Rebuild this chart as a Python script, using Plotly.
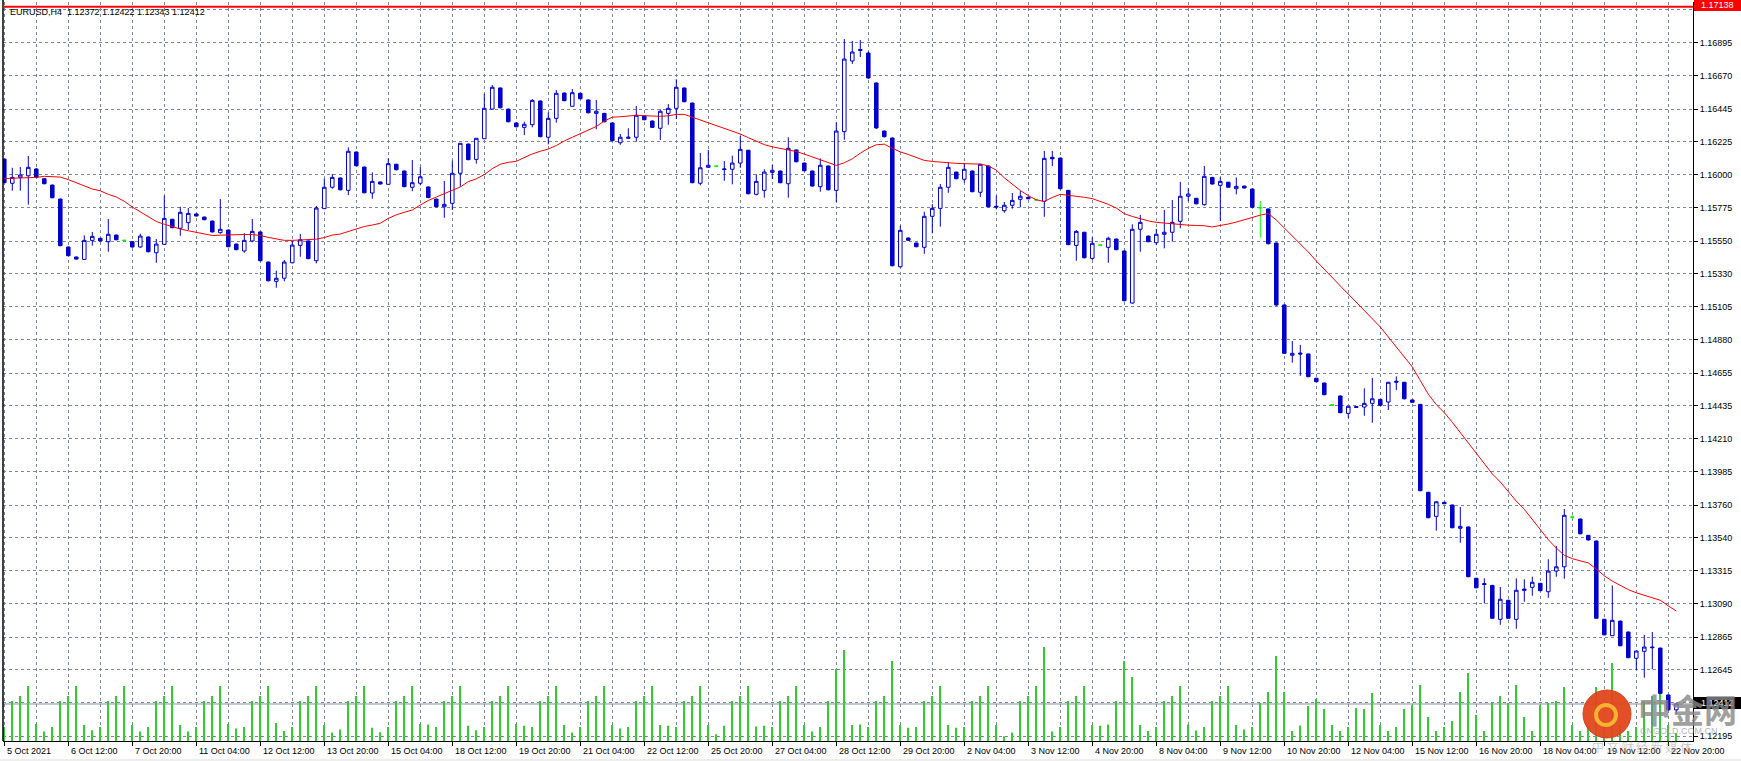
import plotly.graph_objects as go

# ---------------- data (EURUSD, H4) ----------------
open_ = [
1.16106,1.15942,1.15982,1.15993,1.16039,1.15973,1.15930,1.15835,1.15510,1.15442,
1.15426,1.15555,1.15569,1.15546,1.15591,1.15555,1.15546,1.15510,1.15578,1.15471,
1.15528,1.15698,1.15637,1.15675,1.15734,1.15713,1.15686,1.15607,1.15625,1.15530,
1.15483,1.15551,1.15612,1.15408,1.15277,1.15298,1.15403,1.15521,1.15551,1.15417,
1.15770,1.15915,1.15978,1.15894,1.16154,1.16052,1.15876,1.15951,1.15935,1.16071,
1.16025,1.15915,1.15942,1.15917,1.15835,1.15783,1.15806,1.16010,1.16208,1.16104,
1.16244,1.16445,1.16588,1.16445,1.16351,1.16321,1.16339,1.16500,1.16254,1.16382,
1.16554,1.16464,1.16552,1.16507,1.16416,1.16416,1.16351,1.16217,1.16247,1.16254,
1.16398,1.16364,1.16315,1.16416,1.16450,1.16588,1.16486,1.15942,1.16050,1.16058,
1.16035,1.16037,1.16079,1.16166,1.15867,1.15894,1.16016,1.16025,1.15939,1.16168,
1.16079,1.16025,1.15919,1.16059,1.15894,1.16292,1.16771,1.16842,1.16825,1.16622,
1.16296,1.16249,1.15376,1.15571,1.15537,1.15508,1.15718,1.15772,1.15915,1.16018,
1.15969,1.16025,1.15881,1.16059,1.15786,1.15756,1.15793,1.15833,1.15847,1.15829,
1.15820,1.16118,1.16113,1.15894,1.15521,1.15610,1.15433,1.15523,1.15508,1.15564,
1.15483,1.15130,1.15630,1.15584,1.15539,1.15596,1.15610,1.15684,1.15854,1.15840,
1.15797,1.15982,1.15928,1.15949,1.15905,1.15923,1.15903,1.15776,1.15768,1.15537,
1.15117,1.14776,1.14791,1.14785,1.14620,1.14588,1.14439,1.14500,1.14382,1.14428,
1.14425,1.14450,1.14477,1.14459,1.14600,1.14593,1.14473,1.14443,1.13847,1.13684,
1.13779,1.13761,1.13603,1.13612,1.13264,1.13228,1.13216,1.12986,1.13115,1.12986,
1.13191,1.13203,1.13230,1.13173,1.13313,1.13342,1.13679,1.13666,1.13555,1.13517,
1.12986,1.12875,1.12974,1.12900,1.12722,1.12769,1.12798,1.12791,1.12473,1.12372]

high_ = [
1.16106,1.16047,1.16052,1.16127,1.16046,1.15976,1.15933,1.15838,1.15513,1.15445,
1.15589,1.15612,1.15572,1.15700,1.15594,1.15559,1.15549,1.15600,1.15581,1.15564,
1.15858,1.15701,1.15783,1.15774,1.15737,1.15716,1.15689,1.15835,1.15628,1.15533,
1.15603,1.15700,1.15615,1.15411,1.15349,1.15422,1.15555,1.15598,1.15554,1.15788,
1.15973,1.16005,1.15981,1.16186,1.16157,1.16055,1.16016,1.15954,1.16111,1.16074,
1.16028,1.16100,1.16052,1.15920,1.15838,1.15957,1.16095,1.16215,1.16211,1.16249,
1.16549,1.16608,1.16591,1.16448,1.16354,1.16359,1.16513,1.16503,1.16423,1.16574,
1.16557,1.16581,1.16555,1.16510,1.16507,1.16419,1.16354,1.16276,1.16315,1.16466,
1.16401,1.16367,1.16443,1.16479,1.16647,1.16591,1.16489,1.16147,1.16168,1.16065,
1.16093,1.16129,1.16262,1.16169,1.16003,1.16037,1.16066,1.16028,1.16254,1.16171,
1.16082,1.16028,1.16111,1.16062,1.16355,1.16920,1.16907,1.16913,1.16835,1.16625,
1.16300,1.16252,1.15654,1.15574,1.15540,1.15749,1.15801,1.15937,1.16084,1.16021,
1.16077,1.16028,1.16073,1.16062,1.15858,1.15815,1.15876,1.15890,1.15850,1.15833,
1.16161,1.16161,1.16116,1.15897,1.15625,1.15613,1.15576,1.15530,1.15580,1.15567,
1.15486,1.15664,1.15727,1.15587,1.15632,1.15761,1.15829,1.15951,1.15908,1.15843,
1.16059,1.15985,1.15982,1.15952,1.15982,1.15926,1.15906,1.15822,1.15771,1.15540,
1.15120,1.14873,1.14846,1.14788,1.14623,1.14591,1.14444,1.14503,1.14432,1.14430,
1.14552,1.14622,1.14480,1.14595,1.14633,1.14596,1.14476,1.14446,1.13850,1.13785,
1.13782,1.13764,1.13747,1.13615,1.13267,1.13264,1.13219,1.13205,1.13118,1.13264,
1.13257,1.13275,1.13233,1.13393,1.13483,1.13734,1.13690,1.13669,1.13558,1.13520,
1.12989,1.13216,1.12977,1.12903,1.12773,1.12880,1.12900,1.12794,1.12476,1.12422]

low_ = [
1.15944,1.15892,1.15892,1.15797,1.15978,1.15935,1.15840,1.15515,1.15447,1.15425,
1.15424,1.15519,1.15548,1.15478,1.15556,1.15550,1.15506,1.15505,1.15474,1.15403,
1.15526,1.15637,1.15586,1.15625,1.15717,1.15692,1.15608,1.15600,1.15508,1.15488,
1.15471,1.15542,1.15413,1.15277,1.15234,1.15277,1.15399,1.15444,1.15427,1.15399,
1.15768,1.15905,1.15894,1.15862,1.16057,1.15874,1.15837,1.15934,1.15933,1.16030,
1.15915,1.15888,1.15928,1.15841,1.15779,1.15708,1.15761,1.15919,1.16098,1.16075,
1.16242,1.16441,1.16450,1.16355,1.16322,1.16269,1.16321,1.16254,1.16206,1.16353,
1.16498,1.16462,1.16511,1.16416,1.16308,1.16355,1.16227,1.16203,1.16242,1.16224,
1.16369,1.16317,1.16235,1.16339,1.16378,1.16491,1.15942,1.15928,1.16048,1.16050,
1.15959,1.15935,1.16047,1.15867,1.15860,1.15844,1.15971,1.15942,1.15844,1.16084,
1.16023,1.15919,1.15885,1.15894,1.15815,1.16237,1.16751,1.16798,1.16650,1.16310,
1.16252,1.15379,1.15370,1.15552,1.15508,1.15464,1.15603,1.15648,1.15878,1.15969,
1.15946,1.15881,1.15849,1.15779,1.15765,1.15742,1.15770,1.15779,1.15834,1.15826,
1.15715,1.16059,1.15901,1.15522,1.15417,1.15433,1.15422,1.15516,1.15403,1.15488,
1.15142,1.15126,1.15478,1.15542,1.15523,1.15501,1.15546,1.15637,1.15820,1.15799,
1.15790,1.15933,1.15686,1.15911,1.15867,1.15906,1.15775,1.15573,1.15528,1.15110,
1.14785,1.14726,1.14637,1.14627,1.14593,1.14505,1.14434,1.14383,1.14349,1.14420,
1.14366,1.14319,1.14433,1.14405,1.14540,1.14477,1.14453,1.13854,1.13671,1.13587,
1.13766,1.13603,1.13505,1.13271,1.13196,1.13094,1.12989,1.12949,1.12989,1.12922,
1.13105,1.13146,1.13176,1.13132,1.13275,1.13261,1.13668,1.13562,1.13520,1.12989,
1.12877,1.12873,1.12803,1.12722,1.12642,1.12590,1.12647,1.12480,1.12368,1.12343]

close_ = [
1.15946,1.15982,1.15998,1.16050,1.15982,1.15939,1.15844,1.15519,1.15451,1.15428,
1.15555,1.15582,1.15551,1.15596,1.15559,1.15555,1.15510,1.15584,1.15478,1.15530,
1.15704,1.15641,1.15745,1.15738,1.15720,1.15695,1.15612,1.15630,1.15512,1.15492,
1.15555,1.15616,1.15417,1.15281,1.15298,1.15408,1.15523,1.15559,1.15431,1.15774,
1.15915,1.15982,1.15898,1.16159,1.16061,1.15878,1.15955,1.15937,1.16075,1.16034,
1.15919,1.15946,1.15986,1.15845,1.15783,1.15799,1.16010,1.16213,1.16102,1.16247,
1.16450,1.16593,1.16454,1.16359,1.16325,1.16342,1.16504,1.16258,1.16382,1.16552,
1.16502,1.16556,1.16515,1.16420,1.16430,1.16359,1.16231,1.16254,1.16254,1.16403,
1.16373,1.16321,1.16430,1.16450,1.16593,1.16495,1.15946,1.16047,1.16064,1.16058,
1.16039,1.16079,1.16172,1.15871,1.15955,1.16018,1.16030,1.15946,1.16179,1.16088,
1.16027,1.15923,1.16064,1.15898,1.16296,1.16784,1.16832,1.16849,1.16656,1.16317,
1.16258,1.15383,1.15623,1.15555,1.15512,1.15718,1.15772,1.15915,1.16050,1.15973,
1.16037,1.15885,1.16071,1.15783,1.15781,1.15793,1.15826,1.15854,1.15837,1.15829,
1.16111,1.16108,1.15905,1.15526,1.15616,1.15437,1.15535,1.15523,1.15569,1.15492,
1.15146,1.15630,1.15677,1.15546,1.15596,1.15610,1.15677,1.15854,1.15869,1.15803,
1.15989,1.15937,1.15955,1.15915,1.15921,1.15910,1.15779,1.15776,1.15532,1.15117,
1.14789,1.14789,1.14785,1.14631,1.14597,1.14509,1.14439,1.14387,1.14430,1.14423,
1.14450,1.14481,1.14437,1.14593,1.14594,1.14481,1.14457,1.13858,1.13675,1.13783,
1.13770,1.13607,1.13616,1.13275,1.13200,1.13222,1.12993,1.13122,1.12993,1.13183,
1.13183,1.13237,1.13180,1.13313,1.13342,1.13691,1.13679,1.13566,1.13524,1.12993,
1.12881,1.12979,1.12807,1.12726,1.12771,1.12798,1.12794,1.12484,1.12372,1.12412]

ma_line = [
1.15974,1.15976,1.15978,1.15979,1.15982,1.15989,1.15989,1.15984,1.15967,1.15947,
1.15923,1.15903,1.15891,1.15867,1.15849,1.15820,1.15781,1.15749,1.15717,1.15683,
1.15664,1.15646,1.15632,1.15620,1.15608,1.15598,1.15588,1.15590,1.15593,1.15595,
1.15595,1.15594,1.15588,1.15575,1.15563,1.15555,1.15555,1.15557,1.15561,1.15563,
1.15574,1.15591,1.15598,1.15616,1.15632,1.15649,1.15659,1.15671,1.15704,1.15728,
1.15745,1.15761,1.15795,1.15825,1.15849,1.15872,1.15893,1.15917,1.15953,1.15972,
1.16001,1.16041,1.16071,1.16084,1.16091,1.16116,1.16141,1.16159,1.16174,1.16198,
1.16229,1.16254,1.16279,1.16303,1.16327,1.16364,1.16390,1.16393,1.16399,1.16403,
1.16400,1.16396,1.16396,1.16399,1.16409,1.16409,1.16390,1.16371,1.16356,1.16338,
1.16317,1.16298,1.16276,1.16251,1.16225,1.16204,1.16189,1.16179,1.16172,1.16157,
1.16140,1.16121,1.16101,1.16078,1.16063,1.16081,1.16108,1.16146,1.16179,1.16203,
1.16207,1.16179,1.16155,1.16137,1.16116,1.16097,1.16090,1.16084,1.16079,1.16077,
1.16075,1.16074,1.16072,1.16060,1.16031,1.15979,1.15936,1.15893,1.15858,1.15830,
1.15819,1.15846,1.15867,1.15862,1.15855,1.15847,1.15838,1.15821,1.15799,1.15774,
1.15736,1.15717,1.15700,1.15687,1.15677,1.15671,1.15665,1.15661,1.15658,1.15656,
1.15654,1.15646,1.15654,1.15666,1.15679,1.15696,1.15712,1.15726,1.15737,1.15693,
1.15639,1.15585,1.15530,1.15476,1.15415,1.15361,1.15300,1.15246,1.15191,1.15137,
1.15083,1.15025,1.14968,1.14900,1.14832,1.14769,1.14697,1.14605,1.14512,1.14441,
1.14387,1.14322,1.14251,1.14179,1.14107,1.14036,1.13972,1.13917,1.13849,1.13787,
1.13732,1.13665,1.13596,1.13526,1.13469,1.13420,1.13397,1.13384,1.13368,1.13327,
1.13281,1.13245,1.13214,1.13187,1.13166,1.13149,1.13134,1.13115,1.13077,1.13042]

volume = [
3500,10000,11250,13750,4250,2400, 3500,10000,11250,13750,4000,2700,
3500,10000,11250,13750,4000,2400, 3500,10000,11250,13750,4000,2400,
3500,10000,11250,13750,4250,3150, 3500,10000,11250,13750,4500,2500,
3500,10000,11250,13750,4000,2100, 2850,10000,11250,13750,3300,2200,
3500,10000,11250,13750,4250,4100, 3500,10000,11250,13750,3800,2700,
3500,10000,11250,13750,4250,3800, 3500,10000,11250,13750,4000,2100,
3500,10000,11250,13750,4000,3150, 3500,10000,11250,13750,4000,3800,
3500,10000,11250,13750,4000,1700, 3800,10000,11250,13750,3600,3800,
3500,10000,11250,13750,4000,2400, 3500,10000,18000,22750,4000,4100,
3500,10000,11250,20000,4000,3300, 3500,10000,11250,13750,4000,3300,
3500,10000,11250,13750,4000,1200, 2100,10000,11250,13750,23500,2400,
3500,10000,11250,13750,4000,3800, 4100,10000,20000,16000,4000,2500,
3500,10000,11250,13750,4150,2650, 3500,10000,11250,13750,4000,2900,
3500,9500,12250,21250,12250,2500, 3850,8750,10500,8000,4000,2500,
3500,8250,8000,12000,4000,2500, 3500,8000,9000,14000,6000,2500,
3500,5000,12250,17000,6500,2500, 9500,11250,9500,14000,6000,2500,
9000,9500,10000,13500,4000,2500, 3500,13500,5000,19500,4000,2500,
3500,10000,11250,13750,4000,2000]

x_label_text = ["5 Oct 2021", "6 Oct 12:00", "7 Oct 20:00", "11 Oct 04:00", "12 Oct 12:00",
                "13 Oct 20:00", "15 Oct 04:00", "18 Oct 12:00", "19 Oct 20:00", "21 Oct 04:00",
                "22 Oct 12:00", "25 Oct 20:00", "27 Oct 04:00", "28 Oct 12:00", "29 Oct 20:00",
                "2 Nov 04:00", "3 Nov 12:00", "4 Nov 20:00", "8 Nov 04:00", "9 Nov 12:00",
                "10 Nov 20:00", "12 Nov 04:00", "15 Nov 12:00", "16 Nov 20:00", "18 Nov 04:00",
                "19 Nov 12:00", "22 Nov 20:00"]
label_step = 8
grid_step = 4

y_tick_values = [1.17120, 1.16895, 1.16670, 1.16445, 1.16225, 1.16000, 1.15775, 1.15550,
                 1.15330, 1.15105, 1.14880, 1.14655, 1.14435, 1.14210, 1.13985, 1.13760,
                 1.13540, 1.13315, 1.13090, 1.12865, 1.12645, 1.12420, 1.12195]
hidden_labels = [1.17120, 1.12420]

symbol = "EURUSD,H4"
last_ohlc = [1.12372, 1.12422, 1.12343, 1.12412]
hline_price = 1.17138
bid_price = 1.12412

# ---------------- styling / geometry ----------------
W, H = 1741, 761
L, R, T, B = 3, 48, 2, 20
PW, PH = W - L - R, H - T - B
BLUE = "#0000CD"
GREEN = "#00FF00"
VOLC = "#32CD32"
GRID = "#7A8899"
FONT = "Liberation Sans, Arial, sans-serif"
CJK = "Noto Sans CJK SC"


def px_x(xp):
    return (xp - L) / PW


def px_y(yp):
    return (H - B - yp) / PH


n = len(close_)
idx = list(range(n))
tick_idx = [k * label_step for k in range(len(x_label_text))]
minor_idx = [i for i in range(grid_step, n, grid_step) if i % label_step != 0]
norm = [i for i in idx if open_[i] != close_[i]]
doji = [i for i in idx if open_[i] == close_[i]]

fig = go.Figure()
fig.add_trace(go.Bar(x=idx, y=volume, width=0.13, yaxis="y",
                     marker=dict(color=VOLC, line=dict(width=0)), hoverinfo="skip"))
fig.add_trace(go.Candlestick(
    x=norm, open=[open_[i] for i in norm], high=[high_[i] for i in norm],
    low=[low_[i] for i in norm], close=[close_[i] for i in norm], yaxis="y2",
    increasing=dict(line=dict(color=BLUE, width=1), fillcolor="white"),
    decreasing=dict(line=dict(color=BLUE, width=1), fillcolor=BLUE),
    whiskerwidth=0, hoverinfo="skip"))
if doji:
    fig.add_trace(go.Candlestick(
        x=doji, open=[open_[i] for i in doji], high=[high_[i] for i in doji],
        low=[low_[i] for i in doji], close=[close_[i] for i in doji], yaxis="y2",
        increasing=dict(line=dict(color=GREEN, width=1), fillcolor=GREEN),
        decreasing=dict(line=dict(color=GREEN, width=1), fillcolor=GREEN),
        whiskerwidth=0, hoverinfo="skip"))
fig.add_trace(go.Scatter(x=idx, y=ma_line, mode="lines", yaxis="y2",
                         line=dict(color="#FF0000", width=1), hoverinfo="skip"))

y_top = 1.171709
y_bot = 1.121611
vol_top = PH * 250

fig.update_layout(
    width=W, height=H, autosize=False,
    margin=dict(l=L, r=R, t=T, b=B, pad=0),
    paper_bgcolor="white", plot_bgcolor="white", showlegend=False,
    boxgap=0.56, boxgroupgap=0,
    font=dict(family=FONT, size=9, color="black"),
    xaxis=dict(range=[-0.1625, n + 1.0875], rangeslider=dict(visible=False),
               showline=True, linecolor="black", linewidth=1,
               ticks="outside", ticklen=4, tickcolor="black", tickwidth=1,
               tickvals=tick_idx, showticklabels=False,
               showgrid=True, gridcolor=GRID, griddash="3px,3px", gridwidth=1,
               zeroline=False, fixedrange=True, automargin=False,
               minor=dict(tickvals=minor_idx, showgrid=True, gridcolor=GRID,
                          griddash="3px,3px", gridwidth=1, ticks="")),
    yaxis=dict(range=[0, vol_top], visible=False, fixedrange=True, showgrid=False,
               automargin=False),
    yaxis2=dict(overlaying="y", side="right", range=[y_bot, y_top],
                tickvals=y_tick_values,
                ticktext=["" if v in hidden_labels else f"{v:.5f}" for v in y_tick_values],
                ticks="outside", ticklen=4, tickcolor="black", tickwidth=1,
                showline=True, linecolor="black", linewidth=1, automargin=False,
                showgrid=True, gridcolor=GRID, griddash="3px,3px", gridwidth=1,
                zeroline=False, fixedrange=True, tickfont=dict(size=9, color="black")),
)

shapes = []
shapes.append(dict(type="line", xref="paper", yref="paper", x0=0, x1=0, y0=0, y1=1.003,
                   line=dict(color="black", width=1.5), layer="above"))
shapes.append(dict(type="line", xref="paper", yref="y2", x0=0, x1=1, y0=bid_price, y1=bid_price,
                   line=dict(color="#8492A3", width=1), layer="below"))
shapes.append(dict(type="line", xref="paper", yref="y2", x0=0, x1=1, y0=hline_price, y1=hline_price,
                   line=dict(color="#FF0000", width=2), layer="above"))
shapes.append(dict(type="rect", xref="paper", yref="paper", x0=px_x(1694), x1=px_x(1741),
                   y0=px_y(11), y1=px_y(0), fillcolor="#FF0000", line=dict(width=0), layer="above"))
shapes.append(dict(type="rect", xref="paper", yref="paper", x0=px_x(1694), x1=px_x(1741),
                   y0=px_y(709), y1=px_y(697), fillcolor="black", line=dict(width=0), layer="above"))
shapes.append(dict(type="circle", xref="paper", yref="paper", x0=px_x(1583), x1=px_x(1631),
                   y0=px_y(738), y1=px_y(690), fillcolor="#E2461C", line=dict(color="#D63A16", width=1),
                   layer="above", opacity=0.95))
shapes.append(dict(type="circle", xref="paper", yref="paper", x0=px_x(1596), x1=px_x(1616),
                   y0=px_y(725), y1=px_y(705), fillcolor="rgba(0,0,0,0)",
                   line=dict(color="#F7B230", width=4), layer="above"))
shapes.append(dict(type="rect", xref="paper", yref="paper", x0=px_x(0), x1=px_x(1741),
                   y0=px_y(761), y1=px_y(759), fillcolor="#EEEEEE", line=dict(width=0), layer="above"))
fig.update_layout(shapes=shapes)

ann = []
for k, t in enumerate(x_label_text):
    ann.append(dict(x=tick_idx[k], xref="x", y=px_y(750.5), yref="paper", text=t,
                    xanchor="left", yanchor="middle", xshift=1, showarrow=False,
                    font=dict(size=9, color="black", family=FONT)))
hdr = symbol + "  " + " ".join(f"{v:.5f}" for v in last_ohlc)
ann.append(dict(x=px_x(8), y=px_y(12), xref="paper", yref="paper", text=hdr, xanchor="left",
                yanchor="middle", showarrow=False, font=dict(size=9, color="black", family=FONT)))
ann.append(dict(x=px_x(1699), y=px_y(5.5), xref="paper", yref="paper", text=f"{hline_price:.5f}",
                xanchor="left", yanchor="middle", showarrow=False,
                font=dict(size=9, color="white", family=FONT)))
ann.append(dict(x=px_x(1699), y=px_y(703), xref="paper", yref="paper", text=f"{bid_price:.5f}",
                xanchor="left", yanchor="middle", showarrow=False,
                font=dict(size=9, color="white", family=FONT)))
ann.append(dict(x=px_x(1636), y=px_y(709), xref="paper", yref="paper", text="<b>中金网</b>",
                xanchor="left", yanchor="middle", showarrow=False, opacity=0.8,
                font=dict(size=33, color="#888888", family=CJK)))
ann.append(dict(x=px_x(1638), y=px_y(731), xref="paper", yref="paper", text="CNGOLD.COM.CN",
                xanchor="left", yanchor="middle", showarrow=False, opacity=0.7,
                font=dict(size=9, color="#9A9A9A", family=FONT)))
ann.append(dict(x=px_x(1590), y=px_y(746), xref="paper", yref="paper",
                text="中 文 财 经 新 媒 体", xanchor="left", yanchor="middle", showarrow=False,
                opacity=0.5, font=dict(size=12, color="#9A9A9A", family=CJK)))
fig.update_layout(annotations=ann)

fig.write_html("out.html", config={"displayModeBar": False},
               post_script="document.body.style.margin='0';document.body.style.padding='0';")
